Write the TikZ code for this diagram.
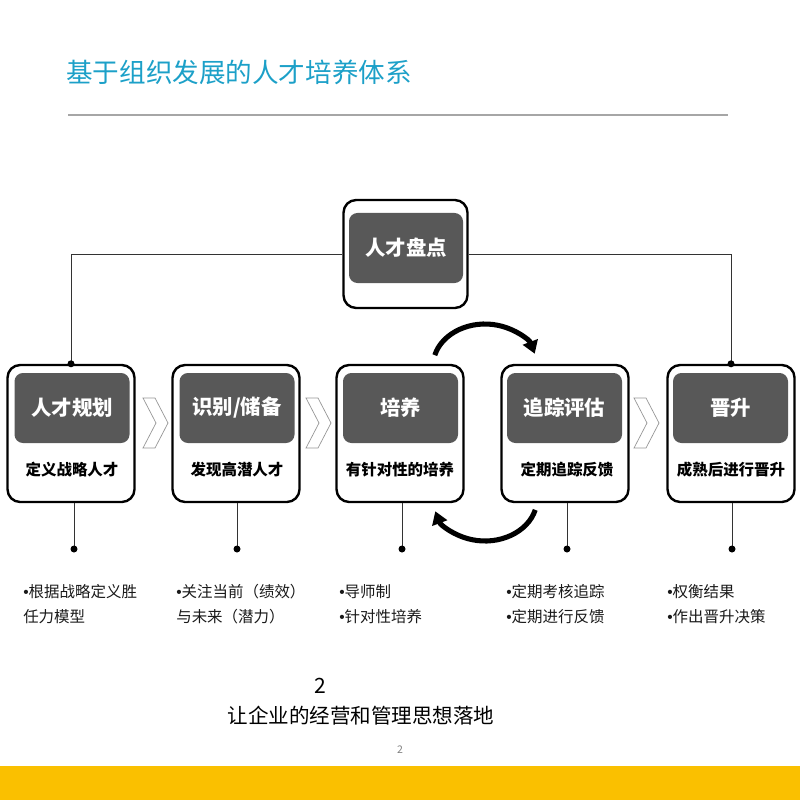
\documentclass[tikz,border=0pt]{standalone}
\usepackage{fontspec}
\setmainfont{Noto Sans CJK SC}
\newfontfamily\bulletfont{Liberation Sans}
\newcommand\bul{{\bulletfont •}}
\usetikzlibrary{arrows.meta,positioning,calc}

\definecolor{titleblue}{RGB}{28,160,200}
\definecolor{headgray}{RGB}{88,88,88}
\definecolor{chevgray}{RGB}{150,150,150}
\definecolor{baryellow}{RGB}{250,192,0}

\tikzset{
  stagebox/.style={draw=black, line width=1.7pt, rounded corners=9pt, fill=white,
    minimum width=127*0.025cm, minimum height=137*0.025cm, inner sep=0pt},
  headbox/.style={fill=headgray, rounded corners=6pt, text=white,
    minimum width=115*0.025cm, minimum height=70*0.025cm, inner sep=0pt,
    font=\fontsize{14.5}{16}\selectfont\bfseries},
  subtext/.style={font=\fontsize{11}{12}\selectfont\bfseries, inner sep=0pt},
  note/.style={anchor=west, align=left, text=black!90, inner sep=0pt,
    font=\fontsize{11}{17.5}\selectfont},
  link/.style={draw=black!80, line width=0.6pt},
  cycarrow/.style={line width=3.6pt, -{Triangle[length=9pt,width=11pt]}},
  chevron/.style={draw=chevgray, line width=0.5pt},
}

\begin{document}
\begin{tikzpicture}[x=0.025cm,y=-0.025cm]
  \useasboundingbox (0,0) rectangle (800,800);

  % title and rule
  \node[anchor=west, text=titleblue, inner sep=0pt,
    font=\fontsize{18.9}{20}\selectfont] (title) at (66,72) {基于组织发展的人才培养体系};
  \draw[black!35, line width=0.9pt] (68,115) -- (728,115);

  % top box
  \node[stagebox, minimum width=124*0.025cm, minimum height=108*0.025cm] (pan) at (405.5,254) {};
  \node[headbox, minimum width=114*0.025cm] (pan-head) at (406,248) {人才盘点};

  % five stages
  \node[stagebox] (plan) at (71,433.5) {};
  \node[headbox] (plan-head) at (72,408) {人才规划};
  \node[subtext] (plan-sub) at (72,470) {定义战略人才};

  \node[stagebox] (ident) at (236,433.5) {};
  \node[headbox] (ident-head) at (237,408) {识别/储备};
  \node[subtext] (ident-sub) at (237,470) {发现高潜人才};

  \node[stagebox] (train) at (400,433.5) {};
  \node[headbox] (train-head) at (400.5,408) {培养};
  \node[subtext] (train-sub) at (400,470) {有针对性的培养};

  \node[stagebox] (track) at (565,433.5) {};
  \node[headbox] (track-head) at (564.5,408) {追踪评估};
  \node[subtext] (track-sub) at (567,470) {定期追踪反馈};

  \node[stagebox] (promo) at (731,433.5) {};
  \node[headbox] (promo-head) at (730.5,408) {晋升};
  \node[subtext] (promo-sub) at (731,470) {成熟后进行晋升};

  % links from the top box
  \draw[link] (pan.west) -| (plan.north);
  \draw[link] (pan.east) -| (promo.north);
  \fill (plan.north) circle (3.5);
  \fill (promo.north) circle (3.5);

  % chevrons
  \foreach \cx in {143,306,634}
    \draw[chevron] (\cx,398) -- (\cx+12,398) -- (\cx+25,423) -- (\cx+12,448)
      -- (\cx,448) -- (\cx+13,423) -- cycle;

  % cycle arrows between train and track
  \coordinate (cyc-top) at (485,366);
  \coordinate (cyc-bot) at (485,499);
  \draw[cycarrow] ($(cyc-top)+(-165:52 and 42)$) arc[start angle=-165, end angle=-17, x radius=52, y radius=42];
  \draw[cycarrow] ($(cyc-bot)+(15:52 and 42)$) arc[start angle=15, end angle=163, x radius=52, y radius=42];

  % drop lines and dots
  \coordinate (plan-dot) at (74,549);
  \coordinate (ident-dot) at (237,549);
  \coordinate (train-dot) at (402,549);
  \coordinate (track-dot) at (567,549);
  \coordinate (promo-dot) at (732,549);
  \draw[link] (plan.south -| plan-dot) -- (plan-dot);
  \draw[link] (ident.south -| ident-dot) -- (ident-dot);
  \draw[link] (train.south -| train-dot) -- (train-dot);
  \draw[link] (track.south -| track-dot) -- (track-dot);
  \draw[link] (promo.south -| promo-dot) -- (promo-dot);
  \foreach \d in {plan-dot,ident-dot,train-dot,track-dot,promo-dot}
    \fill (\d) circle (3.5);

  % notes
  \node[note] (plan-note) at (23,604) {\bul{}根据战略定义胜\\任力模型};
  \node[note] (ident-note) at (176,604) {\bul{}关注当前（绩效）\\与未来（潜力）};
  \node[note] (train-note) at (339,604) {\bul{}导师制\\\bul{}针对性培养};
  \node[note] (track-note) at (506,604) {\bul{}定期考核追踪\\\bul{}定期进行反馈};
  \node[note] (promo-note) at (667,604) {\bul{}权衡结果\\\bul{}作出晋升决策};

  % bottom
  \node[inner sep=0pt, font=\fontsize{15}{16}\selectfont] (num) at (320,686) {2};
  \node[inner sep=0pt, font=\fontsize{14.6}{16}\selectfont] (slogan) at (361,716) {让企业的经营和管理思想落地};
  \node[inner sep=0pt, text=black!50, font=\fontsize{7.5}{8}\selectfont] (page) at (400,750) {2};
  \fill[baryellow] (0,766) rectangle (800,800);
\end{tikzpicture}
\end{document}
